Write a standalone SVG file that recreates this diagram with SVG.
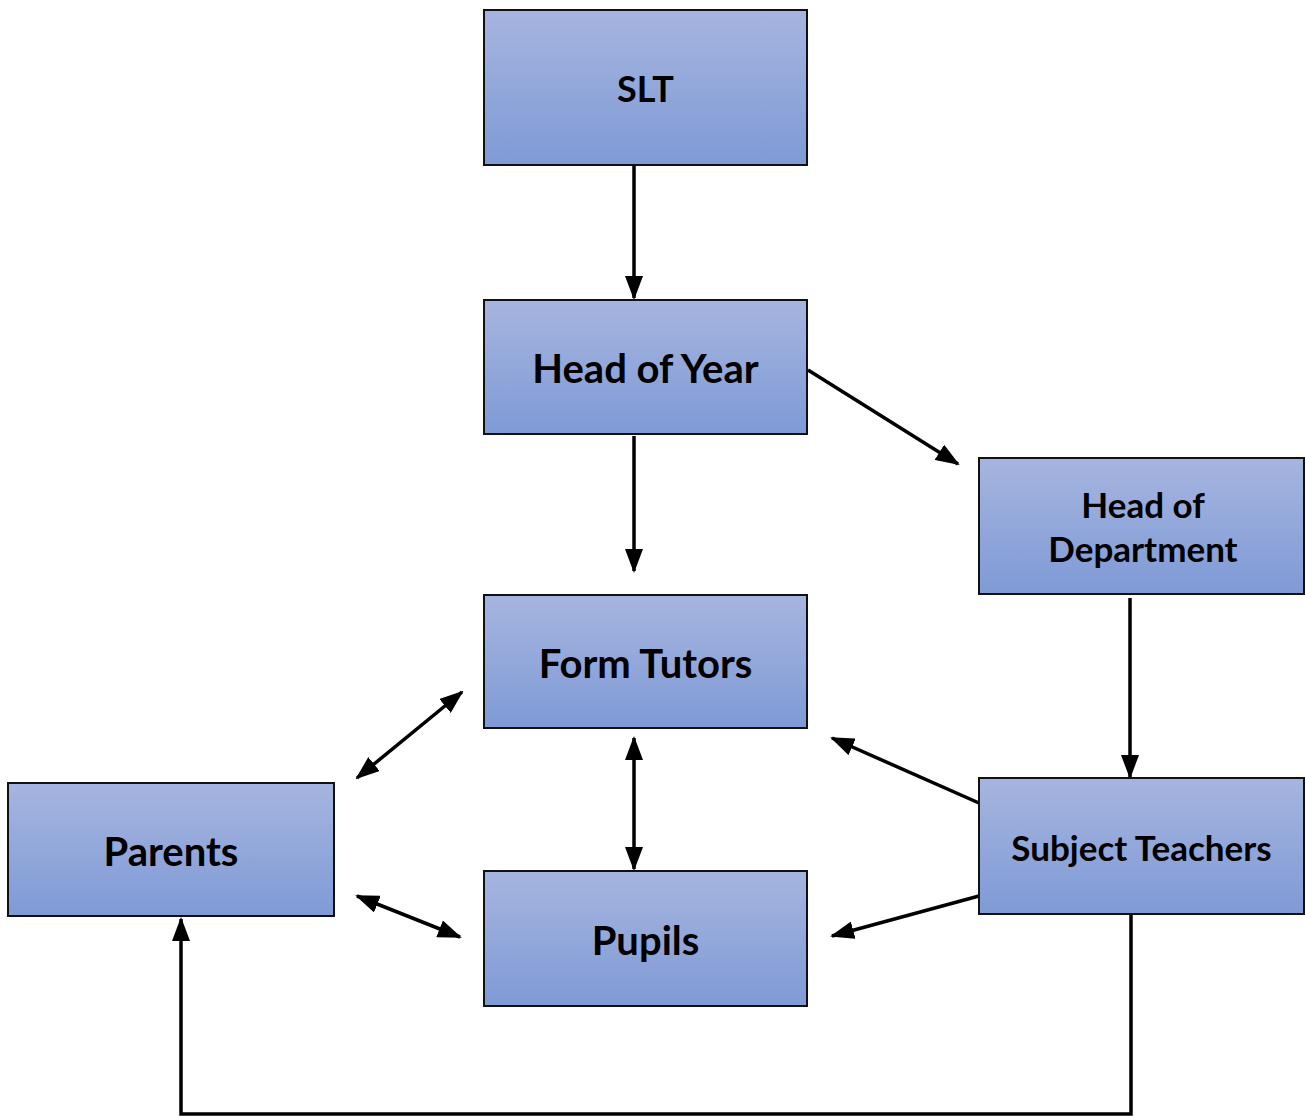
<svg xmlns="http://www.w3.org/2000/svg" width="1305" height="1116" viewBox="0 0 1305 1116">
<defs>
<linearGradient id="g" x1="0" y1="0" x2="0" y2="1">
<stop offset="0" stop-color="#a6b5df"/>
<stop offset="1" stop-color="#7f9ad6"/>
</linearGradient>
<marker id="ah" markerUnits="userSpaceOnUse" markerWidth="24" markerHeight="18" refX="22" refY="9" orient="auto-start-reverse" viewBox="0 0 24 18">
<path d="M0,0 L24,9 L0,18 z" fill="#000"/>
</marker>
<style>
.box{fill:url(#g);stroke:#111;stroke-width:2}
.t{font-family:"Lato","Open Sans","Liberation Sans",sans-serif;font-weight:bold;font-size:40px;fill:#000;text-anchor:middle}
.s{font-size:35px}
.c{fill:none;stroke:#000;stroke-width:3.5}
</style>
</defs>
<rect width="1305" height="1116" fill="#fff"/>
<g id="connectors">
<line class="c" x1="634" y1="166" x2="634" y2="298" marker-end="url(#ah)"/>
<line class="c" x1="808" y1="370" x2="958" y2="464" marker-end="url(#ah)"/>
<line class="c" x1="634" y1="436" x2="634" y2="571" marker-end="url(#ah)"/>
<line class="c" x1="462" y1="692" x2="357" y2="778" marker-start="url(#ah)" marker-end="url(#ah)"/>
<line class="c" x1="634" y1="738" x2="634" y2="869" marker-start="url(#ah)" marker-end="url(#ah)"/>
<line class="c" x1="357" y1="896" x2="460" y2="937" marker-start="url(#ah)" marker-end="url(#ah)"/>
<line class="c" x1="979" y1="803" x2="832" y2="738" marker-end="url(#ah)"/>
<line class="c" x1="979" y1="896" x2="832" y2="936" marker-end="url(#ah)"/>
<line class="c" x1="1130" y1="598" x2="1130" y2="777" marker-end="url(#ah)"/>
<polyline class="c" points="1131,915 1131,1114 181,1114 181,919" marker-end="url(#ah)"/>
</g>
<g id="slt"><rect class="box" x="484" y="10" width="323" height="155"/><text class="t" x="645.5" y="102" style="font-size:36px">SLT</text></g>
<g id="head-of-year"><rect class="box" x="484" y="300" width="323" height="134"/><text class="t" x="645.5" y="383">Head of Year</text></g>
<g id="head-of-department"><rect class="box" x="979" y="458" width="325" height="136"/><text class="t s" x="1143" y="518">Head of</text><text class="t s" x="1143" y="562">Department</text></g>
<g id="form-tutors"><rect class="box" x="484" y="595" width="323" height="133"/><text class="t" x="645.5" y="678">Form Tutors</text></g>
<g id="parents"><rect class="box" x="8" y="783" width="326" height="133"/><text class="t" x="171" y="866">Parents</text></g>
<g id="pupils"><rect class="box" x="484" y="871" width="323" height="135"/><text class="t" x="645.5" y="955">Pupils</text></g>
<g id="subject-teachers"><rect class="box" x="979" y="778" width="325" height="136"/><text class="t s" x="1141.5" y="861">Subject Teachers</text></g>
</svg>
